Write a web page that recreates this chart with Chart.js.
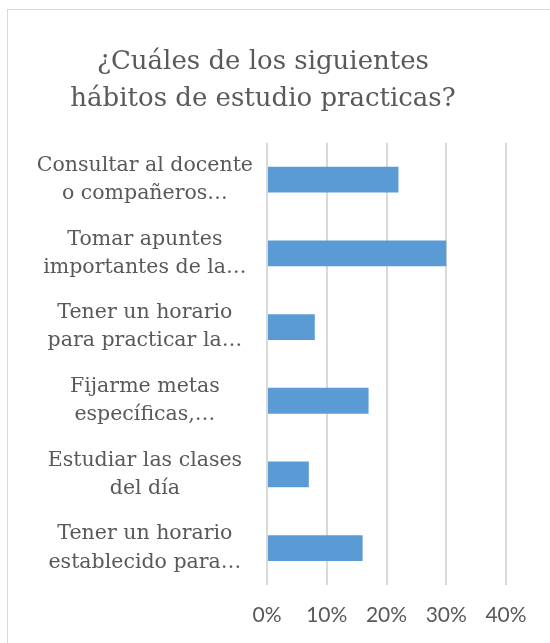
<!DOCTYPE html>
<html>
<head>
<meta charset="utf-8">
<script src="https://cdn.jsdelivr.net/npm/chart.js@4"></script>
<style>
  html, body { margin: 0; padding: 0; background: #fff; overflow: hidden; }
  #wrap { position: relative; width: 550px; height: 643px; }
  #frame { position: absolute; left: 7px; top: 9px; width: 600px; height: 700px; border: 1px solid #d9d9d9; pointer-events: none; }
  canvas { position: absolute; left: 0; top: 0; }
</style>
</head>
<body>
<div id="wrap">
  <canvas id="grafico" width="550" height="643"></canvas>
  <div id="frame"></div>
</div>
<script>
// --- DATOS ---
const titulo = ['¿Cuáles de los siguientes', 'hábitos de estudio practicas?'];

const categorias = [
    ['Consultar al docente', 'o compañeros…'],
    ['Tomar apuntes', 'importantes de la…'],
    ['Tener un horario', 'para practicar la…'],
    ['Fijarme metas', 'específicas,…'],
    ['Estudiar las clases', 'del día'],
    ['Tener un horario', 'establecido para…']
];

const porcentajes = [22, 30, 8, 17, 7, 16];

const ticksX = [0, 10, 20, 30, 40];

// --- GRÁFICO ---
const ctx = document.getElementById('grafico').getContext('2d');
const grafico = new Chart(ctx, {
    type: 'bar',
    data: {
        labels: categorias,
        datasets: [{
            data: porcentajes,
            backgroundColor: '#5b9bd5',
            borderWidth: 0,
            barPercentage: 0.35,
            categoryPercentage: 1
        }]
    },
    options: {
        indexAxis: 'y',
        responsive: false,
        animation: false,
        layout: {
            padding: { top: 0, left: 20, right: 44, bottom: 0 }
        },
        scales: {
            x: {
                min: ticksX[0],
                max: ticksX[ticksX.length - 1],
                afterBuildTicks: (scale) => {
                    scale.ticks = ticksX.map(v => ({ value: v }));
                },
                afterFit: (scale) => { scale.height = 58; },
                grid: {
                    color: '#d9d9d9',
                    lineWidth: 2,
                    drawTicks: false
                },
                border: { display: false },
                ticks: {
                    padding: 18,
                    color: '#595959',
                    font: { family: 'Lato', size: 21 },
                    callback: (v) => v + '%'
                }
            },
            y: {
                afterFit: (scale) => { scale.width = 247; },
                grid: { display: false },
                border: { display: false },
                ticks: {
                    crossAlign: 'center',
                    padding: 6,
                    color: '#595959',
                    font: { family: 'DejaVu Serif', size: 20.5, lineHeight: 1.37 }
                }
            }
        },
        plugins: {
            legend: { display: false },
            tooltip: { enabled: false },
            title: {
                display: true,
                text: titulo,
                color: '#595959',
                font: { family: 'DejaVu Serif', size: 26, weight: 'normal', lineHeight: 1.42 },
                padding: { top: 44, bottom: 25 }
            }
        }
    }
});
</script>
</body>
</html>
